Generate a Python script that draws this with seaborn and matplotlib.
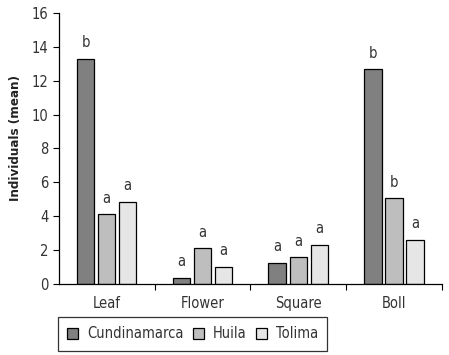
import matplotlib
matplotlib.use("Agg")
import matplotlib.pyplot as plt
import pandas as pd
import seaborn as sns

# Values
organs = ["Leaf", "Flower", "Square", "Boll"]
regions = ["Cundinamarca", "Huila", "Tolima"]
cundinamarca = [13.3, 0.35, 1.25, 12.7]
huila = [4.1, 2.1, 1.55, 5.05]
tolima = [4.85, 1.0, 2.3, 2.6]
letters = {
    "Cundinamarca": ["b", "a", "a", "b"],
    "Huila": ["a", "a", "a", "b"],
    "Tolima": ["a", "a", "a", "a"],
}
colors = ["#808080", "#bebebe", "#e6e6e6"]

df = pd.DataFrame({
    "organ": organs * 3,
    "region": [r for r in regions for _ in organs],
    "value": cundinamarca + huila + tolima,
})

sns.set_style("ticks")
plt.rcParams["font.family"] = ["DejaVu Sans"]
plt.rcParams["font.stretch"] = "condensed"
text_color = "#333333"

fig = plt.figure(figsize=(4.49, 3.55), dpi=100)
ax = fig.add_axes([0.131, 0.201, 0.853, 0.762])

sns.barplot(data=df, x="organ", y="value", hue="region", order=organs,
            hue_order=regions, palette=colors, width=0.66, gap=0.18,
            edgecolor="black", linewidth=0.9, saturation=1, ax=ax, legend=True)

for cont, reg in zip(ax.containers, regions):
    ax.bar_label(cont, labels=letters[reg], padding=6, fontsize=10.5, color=text_color)

ax.set_xlim(-0.5, 3.5)
ax.set_ylim(0, 16)
ax.set_yticks(range(0, 17, 2))
ax.set_xticks([0.5, 1.5, 2.5, 3.5], minor=True)
ax.tick_params(axis="x", which="major", length=0, pad=9, labelsize=10.5, labelcolor=text_color)
ax.tick_params(axis="x", which="minor", length=4, width=0.8, color="black")
ax.tick_params(axis="y", length=4, width=0.8, labelsize=10.5, color="black",
               labelcolor=text_color)
ax.set_xlabel("")
ax.set_ylabel("Individuals (mean)", fontsize=9.5, fontweight="bold", color="#222222")
ax.yaxis.set_label_coords(-0.097, 0.54)
for side in ["top", "right"]:
    ax.spines[side].set_visible(False)
for side in ["left", "bottom"]:
    ax.spines[side].set_linewidth(0.9)
    ax.spines[side].set_color("black")

handles, labels = ax.get_legend_handles_labels()
ax.get_legend().remove()
leg = fig.legend(handles, labels, loc="lower left", bbox_to_anchor=(0.129, 0.012),
                 ncol=3, frameon=True, fancybox=False, fontsize=10.5,
                 handlelength=0.75, handleheight=0.75, handletextpad=0.6,
                 columnspacing=0.65, borderpad=0.65, borderaxespad=0)
for t in leg.get_texts():
    t.set_color(text_color)
leg.get_frame().set_edgecolor("black")
leg.get_frame().set_linewidth(0.9)

fig.savefig("out.png", dpi=100)
